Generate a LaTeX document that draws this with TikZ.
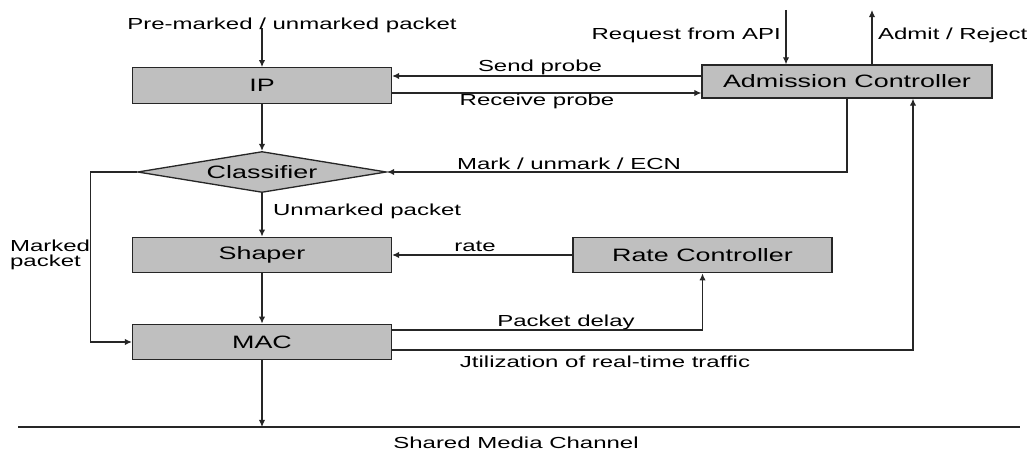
\documentclass[tikz,border=0pt]{standalone}
\usepackage{fontspec}
\setmainfont{Liberation Sans}[FakeStretch=1.5]
\usetikzlibrary{positioning,shapes.geometric,arrows.meta}

\begin{document}
\begin{tikzpicture}[x=0.02cm, y=-0.02cm, font=\fontsize{9.1}{10.5}\selectfont,
                    c/.style={line width=0.65pt, black!85},
                    arr/.style={c, -{Latex[length=4pt, width=3.6pt]}},
                    blk/.style={draw=black!85, line width=0.75pt, fill=black!25,
                                minimum width=5.18cm, minimum height=0.71cm, inner sep=0pt,
                                font=\fontsize{10.2}{11}\selectfont},
                    dec/.style={blk, shape=diamond, aspect=6, minimum width=4.98cm,
                                minimum height=0.82cm},
                    lbl/.style={inner sep=1pt}]
  \useasboundingbox (0,0) rectangle (1030,462);
  \node[blk] (ip) at (262,85.5) {IP};
  \node[blk, minimum width=5.8cm, minimum height=0.66cm] (ac) at (847,81.5) {Admission Controller};
  \node[dec] (cls) at (262,172) {Classifier};
  \node[blk] (sh) at (262,255) {Shaper};
  \node[blk] (rc) at (702.5,255) {Rate Controller};
  \node[blk] (mac) at (262,342) {MAC};
  \coordinate (src) at (262,28);
  \coordinate (api) at (786,10);
  \coordinate (out) at (872,10);
  \coordinate (chanL) at (18,427);
  \coordinate (chanR) at (1020,427);
  % connectors
  \draw[arr] (src) -- (ip);
  \draw[arr] (ip) -- (cls);
  \draw[arr] (cls) -- (sh);
  \draw[arr] (sh) -- (mac);
  \draw[arr] (mac) -- (mac |- chanL);
  \draw[arr] (api) -- (ac.north -| api);
  \draw[arr] (ac.north -| out) -- (out);
  \draw[arr] (ac.west |- 0,76) -- (ip.east |- 0,76);
  \draw[arr] (ip.east |- 0,93) -- (ac.west |- 0,93);
  \draw[arr] (ac.south) |- (cls.east);
  \draw[arr] (cls.west) -- ++(-46,0) |- (mac.west);
  \draw[arr] (rc) -- (sh);
  \draw[arr] (mac.east |- 0,330) -| (rc.south);
  \draw[arr] (mac.east |- 0,350) -| ([xshift=1.32cm]ac.south);
  \draw[c, line width=0.8pt] (chanL) -- (chanR);
  % labels
  \node[lbl] (lsrc) at (292,25) {Pre-marked / unmarked packet};
  \node[lbl, anchor=east] (lapi) at (783,35) {Request from API};
  \node[lbl, anchor=west] (lout) at (876,35) {Admit / Reject};
  \node[lbl] (lsend) at (540,67) {Send probe};
  \node[lbl] (lrecv) at (537,101) {Receive probe};
  \node[lbl] (lmark) at (569,164) {Mark / unmark / ECN};
  \node[lbl, anchor=west] (lunm) at (271,211) {Unmarked packet};
  \node[lbl, anchor=west, align=left, font=\fontsize{9.1}{8.5}\selectfont] (lmkd) at (8,255) {Marked\\packet};
  \node[lbl] (lrate) at (475,246) {rate};
  \node[lbl] (ldel) at (566,322) {Packet delay};
  \node[lbl] (lutil) at (605,362) {Jtilization of real-time traffic};
  \node[lbl] (lchan) at (516,443) {Shared Media Channel};
\end{tikzpicture}
\end{document}
